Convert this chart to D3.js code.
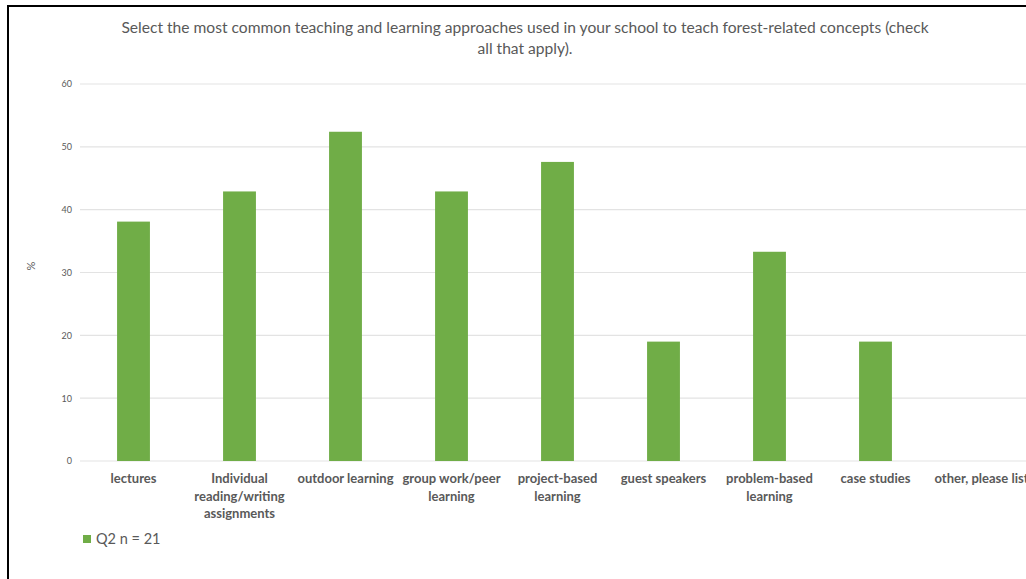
<!DOCTYPE html>
<html><head><meta charset="utf-8">
<script src="https://cdn.jsdelivr.net/npm/d3@7"></script>
<style>html,body{margin:0;padding:0;background:#fff;overflow:hidden}</style>
</head><body>
<script>
const categories = [["lectures"],["Individual","reading/writing","assignments"],["outdoor learning"],["group work/peer","learning"],["project-based","learning"],["guest speakers"],["problem-based","learning"],["case studies"],["other, please list"]];
const values = [38.1, 42.9, 52.4, 42.9, 47.6, 19.0, 33.3, 19.0, 0];
const yTicks = [0, 10, 20, 30, 40, 50, 60];
const titleLines = ["Select the most common teaching and learning approaches used in your school to teach forest-related concepts (check","all that apply)."];
const seriesName = "Q2 n = 21";
const yLabel = "%";

const W = 1026, H = 579;
const svg = d3.select("body").append("svg").attr("width", W).attr("height", H);
const font = "Lato, 'Open Sans', sans-serif";

svg.append("rect").attr("x",8).attr("y",6).attr("width",1100).attr("height",700).attr("fill","none").attr("stroke","#000").attr("stroke-width",2);

const x = d3.scaleBand().domain(categories.map((d,i)=>i)).range([80.5, 1034.5]).paddingInner(0.69).paddingOuter(0.345);
const y = d3.scaleLinear().domain([0,60]).range([461, 84]);

// grid
svg.append("g").selectAll("line").data(yTicks).join("line")
  .attr("x1",80).attr("x2",1040).attr("y1",d=>y(d)).attr("y2",d=>y(d))
  .attr("stroke","#e3e3e3").attr("stroke-width",1.2);

// y axis
const ya = svg.append("g").attr("transform","translate(72,0)")
  .call(d3.axisLeft(y).tickValues(yTicks).tickSize(0).tickPadding(0));
ya.select(".domain").remove();
ya.selectAll("text").attr("font-family",font).attr("font-size",9).attr("fill","#595959");

svg.append("text").attr("transform","translate(35,266) rotate(-90)").attr("text-anchor","middle")
  .attr("font-family",font).attr("font-size",11).attr("fill","#595959").text(yLabel);

// bars
svg.append("g").selectAll("rect").data(values).join("rect")
  .attr("x",(d,i)=>x(i)).attr("width",x.bandwidth())
  .attr("y",d=>y(d)).attr("height",d=>y(0)-y(d)).attr("fill","#70AD47");

// x labels
const xl = svg.append("g").selectAll("text").data(categories).join("text")
  .attr("x",(d,i)=>x(i)+x.bandwidth()/2).attr("y",483).attr("text-anchor","middle")
  .attr("font-family",font).attr("font-size",13).attr("font-weight","bold").attr("fill","#595959");
xl.each(function(d){
  const t = d3.select(this);
  d.forEach((s,j)=>t.append("tspan").attr("x",t.attr("x")).attr("dy",j?17.5:0).text(s));
});

// title
svg.append("g").selectAll("text").data(titleLines).join("text")
  .attr("x",525).attr("y",(d,i)=>33+i*21).attr("text-anchor","middle")
  .attr("font-family",font).attr("font-size",15.6).attr("fill","#595959").text(d=>d);

// legend
svg.append("rect").attr("x",83).attr("y",535).attr("width",8).attr("height",8).attr("fill","#70AD47");
svg.append("text").attr("x",96).attr("y",544).attr("font-family",font).attr("font-size",14.5).attr("fill","#595959").text(seriesName);
</script>
</body></html>
